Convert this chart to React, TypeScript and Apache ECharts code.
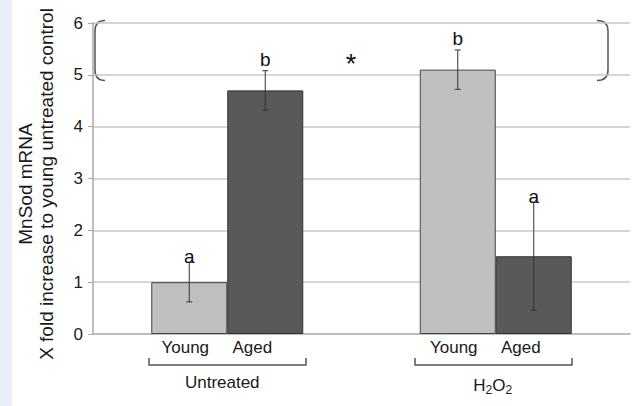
import React, { useEffect, useRef } from "react";
import * as echarts from "echarts";

const categories = ["Untreated", "H2O2"];
const groupLabels = ["Untreated", "{n|H}{s|2}{n|O}{s|2}"];
const seriesNames = ["Young", "Aged"];
const youngValues = [1.0, 5.1];
const agedValues = [4.7, 1.5];
const youngErrors = [0.38, 0.38];
const agedErrors = [0.38, 1.04];
const youngLetters = ["a", "b"];
const agedLetters = ["b", "a"];
const yMin = 0;
const yMax = 6;
const yInterval = 1;
const axisTitle = ["MnSod mRNA", "X fold increase to young untreated control"];

const FONT = "'Liberation Sans', Arial, sans-serif";
const BAR_W = 76;
const TXT = "#1a1a1a";

export default function App() {
  const ref = useRef<HTMLDivElement>(null);
  useEffect(() => {
    if (!ref.current) return;
    const chart = echarts.init(ref.current, null, { renderer: "svg" });

    const errData: any[] = [];
    youngValues.forEach((v, i) => errData.push([i, 0, v, youngErrors[i], youngLetters[i]]));
    agedValues.forEach((v, i) => errData.push([i, 1, v, agedErrors[i], agedLetters[i]]));

    const stroke = { stroke: "#555", lineWidth: 1.5, fill: "none" };

    chart.setOption({
      animation: false,
      backgroundColor: "#ffffff",
      textStyle: { fontFamily: FONT },
      grid: { left: 93, right: 4, top: 23, bottom: 72, containLabel: false, outerBoundsMode: "none" },
      xAxis: {
        type: "category",
        data: categories.map((c, i) => ({
          value: c,
          textStyle: { padding: i === 0 ? [0, 10, 0, 0] : [0, 6, 0, 0] },
        })),
        axisLine: { show: true, lineStyle: { color: "#b5b5b5", width: 1.5 } },
        axisTick: { show: false },
        axisLabel: {
          margin: 40,
          fontSize: 17,
          color: TXT,
          formatter: (_v: string, i: number) => groupLabels[i],
          rich: {
            n: { fontSize: 17, color: TXT, fontFamily: FONT },
            s: { fontSize: 12, color: TXT, fontFamily: FONT, padding: [10, 0, 0, 0] },
          },
        },
      },
      yAxis: {
        type: "value",
        min: yMin,
        max: yMax,
        interval: yInterval,
        name: axisTitle.join("\n"),
        nameLocation: "middle",
        nameGap: 36,
        nameRotate: 90,
        nameTextStyle: { fontSize: 19, color: TXT, lineHeight: 21, fontFamily: FONT, padding: [0, 11, 0, 0] },
        axisLine: { show: true, lineStyle: { color: "#a8a8a8", width: 1.5 } },
        axisTick: { show: true, length: 5, lineStyle: { color: "#a8a8a8" } },
        axisLabel: { fontSize: 17, color: TXT, margin: 10 },
        splitLine: { lineStyle: { color: "#c8c8c8", width: 1.5 } },
      },
      series: [
        {
          name: seriesNames[0],
          type: "bar",
          data: youngValues,
          barWidth: BAR_W,
          barGap: "0%",
          itemStyle: { color: "#c0c0c0", borderColor: "#444", borderWidth: 1 },
          label: {
            show: true,
            position: "bottom",
            distance: 5,
            offset: [-4, 0],
            formatter: seriesNames[0],
            fontSize: 17,
            color: TXT,
          },
        },
        {
          name: seriesNames[1],
          type: "bar",
          data: agedValues,
          barWidth: BAR_W,
          barGap: "0%",
          itemStyle: { color: "#595959", borderColor: "#333", borderWidth: 1 },
          label: {
            show: true,
            position: "bottom",
            distance: 5,
            offset: [-13, 0],
            formatter: seriesNames[1],
            fontSize: 17,
            color: TXT,
          },
        },
        {
          type: "custom",
          data: errData,
          z: 5,
          renderItem: (_params: any, api: any) => {
            const cat = api.value(0);
            const s = api.value(1);
            const v = api.value(2);
            const e = api.value(3);
            const letter = errData[_params.dataIndex][4];
            const c = api.coord([cat, v]);
            const x = c[0] + (s === 0 ? -BAR_W / 2 : BAR_W / 2);
            const top = api.coord([cat, v + e])[1];
            const bot = api.coord([cat, v - e])[1];
            const st = { stroke: "#333", lineWidth: 1 };
            return {
              type: "group",
              children: [
                { type: "line", shape: { x1: x, y1: top, x2: x, y2: bot }, style: st },
                { type: "line", shape: { x1: x - 3, y1: top, x2: x + 3, y2: top }, style: st },
                { type: "line", shape: { x1: x - 3, y1: bot, x2: x + 3, y2: bot }, style: st },
                {
                  type: "text",
                  style: {
                    text: letter,
                    x: x,
                    y: top + (letter === "a" ? 4 : -2),
                    align: "center",
                    verticalAlign: "bottom",
                    fontSize: 19,
                    fontFamily: FONT,
                    fill: "#111",
                  },
                },
              ],
            };
          },
        },
      ],
      graphic: [
        { type: "rect", shape: { x: 0, y: 0, width: 12, height: 406 }, style: { fill: "#e8eef8" }, z: -10 },
        // significance bracket
        { type: "bezierCurve", shape: { x1: 105, y1: 20.5, cpx1: 95, cpy1: 20.5, x2: 95, y2: 31 }, style: stroke },
        { type: "line", shape: { x1: 95, y1: 31, x2: 95, y2: 70 }, style: stroke },
        { type: "bezierCurve", shape: { x1: 95, y1: 70, cpx1: 95, cpy1: 80.5, x2: 105, y2: 80.5 }, style: stroke },
        { type: "bezierCurve", shape: { x1: 597, y1: 20.5, cpx1: 608, cpy1: 20.5, x2: 608, y2: 31 }, style: stroke },
        { type: "line", shape: { x1: 608, y1: 31, x2: 608, y2: 70 }, style: stroke },
        { type: "bezierCurve", shape: { x1: 608, y1: 70, cpx1: 608, cpy1: 80.5, x2: 597, y2: 80.5 }, style: stroke },
        {
          type: "text",
          x: 351,
          y: 64,
          style: { text: "*", fontSize: 27, fontFamily: FONT, fill: "#111", align: "center", verticalAlign: "middle" },
        },
        // group brackets under labels
        { type: "polyline", shape: { points: [[149, 358], [149, 365], [306, 365], [306, 358]] }, style: stroke },
        { type: "polyline", shape: { points: [[415, 358], [415, 365], [572, 365], [572, 358]] }, style: stroke },
      ],
    });
    return () => chart.dispose();
  }, []);
  return <div ref={ref} style={{ position: "fixed", left: 0, top: 0, width: 634, height: 406 }} />;
}
